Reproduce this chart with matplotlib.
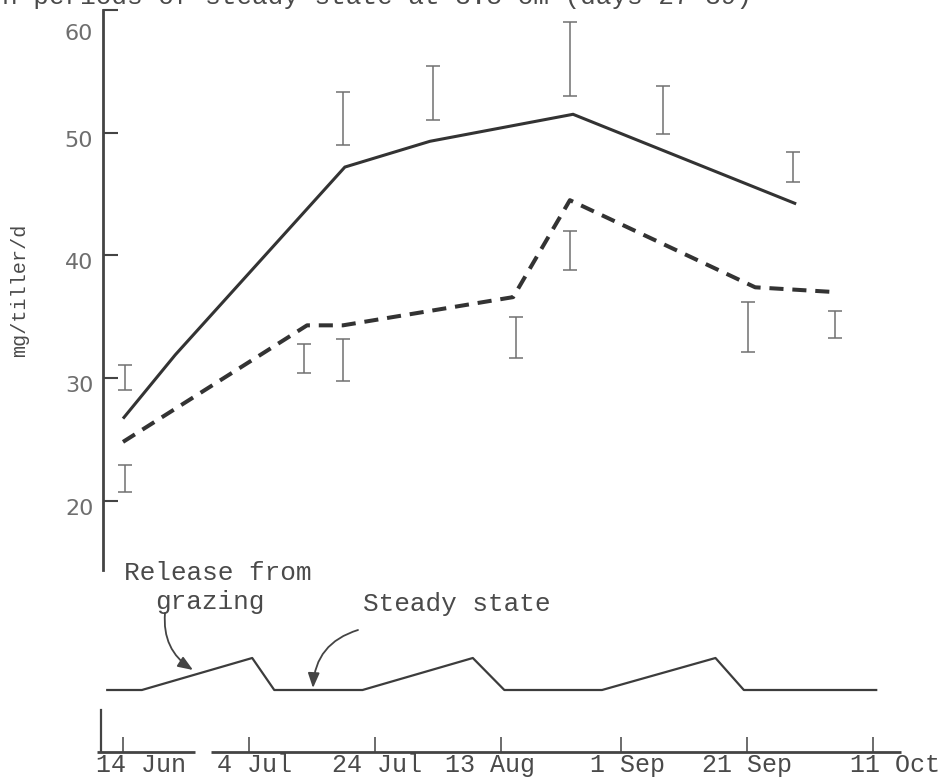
import matplotlib
matplotlib.use("Agg")
import matplotlib.pyplot as plt
from matplotlib.transforms import ScaledTranslation

# ---- data (x = day of year) ----
date_ticks = [165, 185, 205, 225, 244, 264, 284]
date_labels = ["14 Jun", "4 Jul", "24 Jul", "13 Aug", "1 Sep", "21 Sep", "11 Oct"]

solid_days = [165.0, 173.3, 200.2, 213.7, 236.4, 271.8]
solid_vals = [26.7, 31.9, 47.2, 49.3, 51.5, 44.2]

dashed_days = [165.0, 194.2, 199.9, 226.9, 235.9, 265.3, 278.3]
dashed_vals = [24.8, 34.3, 34.3, 36.6, 44.5, 37.4, 37.0]

err_days = [165.3, 165.3, 193.7, 199.9, 199.9, 214.2, 227.4, 235.9, 235.9, 250.7, 264.2, 271.3, 277.9]
err_lo = [29.0, 20.7, 30.4, 29.8, 49.0, 51.0, 31.6, 38.8, 53.0, 49.9, 32.1, 46.0, 33.3]
err_hi = [31.1, 22.9, 32.8, 33.2, 53.3, 55.4, 35.0, 42.0, 59.0, 53.8, 36.2, 48.4, 35.5]

# grazing schedule: 0 = steady state, 1 = peak height after release
sched_days = [162.5, 168.0, 185.5, 189.0, 203.0, 220.5, 225.5, 241.0, 259.0, 263.5, 284.5]
sched_level = [0, 0, 1, 0, 0, 1, 0, 0, 1, 0, 0]

y_ticks = [20, 30, 40, 50, 60]

# ---- layout helpers ----
W, H = 939, 784
PX_PER_DAY = 6.303


def day_at(px):
    return 165 + (px - 123) / PX_PER_DAY


def axes_rect(left, right, top, bottom):
    return [left / W, 1 - bottom / H, (right - left) / W, (bottom - top) / H]


def shift(artist, dx_px, dy_px):
    artist.set_transform(artist.get_transform()
                         + ScaledTranslation(dx_px / 100, dy_px / 100, fig.dpi_scale_trans))


grey = "#6e6e6e"
text_ink = "#4a4a4a"
mono = "Liberation Mono"

fig = plt.figure(figsize=(W / 100, H / 100), dpi=100)

# ---- upper panel ----
ax = fig.add_axes(axes_rect(103, 901, 10, 570))
ax.set_xlim(day_at(103), day_at(901))
ax.set_ylim(60 - (570 - 10) / 12.27, 60)
for s in ("top", "right", "bottom"):
    ax.spines[s].set_visible(False)
ax.spines["left"].set_linewidth(2.0)
ax.spines["left"].set_color("#444444")
ax.set_xticks([])
ax.set_yticks(y_ticks)
ax.set_yticklabels([str(v) for v in y_ticks])
ax.tick_params(axis="y", direction="in", length=10.8, width=1.5, color="#444444",
               pad=7, labelsize=16, labelcolor=grey)
for t in ax.get_yticklabels():
    t.set_family("DejaVu Sans")
for tick, v in zip(ax.yaxis.get_major_ticks(), y_ticks):
    shift(tick.label1, 0, -22 if v == 60 else -6)

ax.plot(solid_days, solid_vals, color="#333333", lw=2.2, solid_joinstyle="miter",
        solid_capstyle="butt")
ax.plot(dashed_days, dashed_vals, color="#333333", lw=2.9,
        linestyle=(0, (3.5, 2.2)), dash_capstyle="butt")

mids = [(a + b) / 2 for a, b in zip(err_lo, err_hi)]
halves = [(b - a) / 2 for a, b in zip(err_lo, err_hi)]
ax.errorbar(err_days, mids, yerr=halves, fmt="none", ecolor="#707070",
            elinewidth=1.1, capsize=5, capthick=1.1)

# ---- lower panel: grazing schedule ----
ax2 = fig.add_axes(axes_rect(101, 901, 575, 752))
ax2.set_xlim(day_at(101), day_at(901))
ax2.set_ylim((690 - 752) / 32, (690 - 575) / 32)
for s in ("top", "right", "bottom"):
    ax2.spines[s].set_visible(False)
ax2.spines["left"].set_bounds((690 - 752) / 32, (690 - 710) / 32)
ax2.spines["left"].set_linewidth(1.6)
ax2.spines["left"].set_color("#444444")
ax2.set_yticks([])
ax2.set_xticks(date_ticks)
ax2.set_xticklabels(date_labels)
ax2.tick_params(axis="x", direction="in", length=10.8, width=1.1, color="#444444",
                pad=1, labelsize=18, labelcolor=text_ink)
label_nudge = [18, 5, 2, -11, 7, 0, 22]
for t, dx in zip(ax2.get_xticklabels(), label_nudge):
    t.set_family(mono)
for tick, dx in zip(ax2.xaxis.get_major_ticks(), label_nudge):
    shift(tick.label1, dx, 0)

# date axis line, with its break after the first tick
xt = ax2.get_xaxis_transform()
for a, b in ((day_at(97), day_at(195)), (day_at(211), day_at(901))):
    ax2.plot([a, b], [0, 0], transform=xt, color="#444444", lw=2.0,
             clip_on=False, solid_capstyle="butt")

ax2.plot(sched_days, sched_level, color="#3c3c3c", lw=1.6)

ax2.text(day_at(124), (690 - 580) / 32, "Release from", family=mono, size=18.8,
         color=text_ink, ha="left", va="baseline", clip_on=False)
ax2.text(day_at(155), (690 - 609) / 32, "grazing", family=mono, size=18.8,
         color=text_ink, ha="left", va="baseline")
ax2.text(day_at(363), (690 - 611) / 32, "Steady state", family=mono, size=18.8,
         color=text_ink, ha="left", va="baseline")

arrow = dict(arrowstyle="-|>,head_length=0.9,head_width=0.35", lw=1.3,
             color="#444444", shrinkA=0, shrinkB=0)
ax2.annotate("", xy=(day_at(193), (690 - 670) / 32), xytext=(day_at(165), (690 - 613) / 32),
             arrowprops=dict(arrow, connectionstyle="arc3,rad=0.3"), annotation_clip=False)
ax2.annotate("", xy=(day_at(313), (690 - 688) / 32), xytext=(day_at(358), (690 - 630) / 32),
             arrowprops=dict(arrow, connectionstyle="arc3,rad=0.35"), annotation_clip=False)

# ---- figure texts ----
fig.text(2 / W, 1 - 4 / H, "h periods of steady state at 3.5 cm (days 27-39)",
         family=mono, size=18.8, color=text_ink, ha="left", va="baseline")
fig.text(20 / W, 1 - 290 / H, "mg/tiller/d", rotation=90, family=mono, size=14.5,
         color=text_ink, ha="center", va="center")

fig.savefig("out.png", dpi=100)
